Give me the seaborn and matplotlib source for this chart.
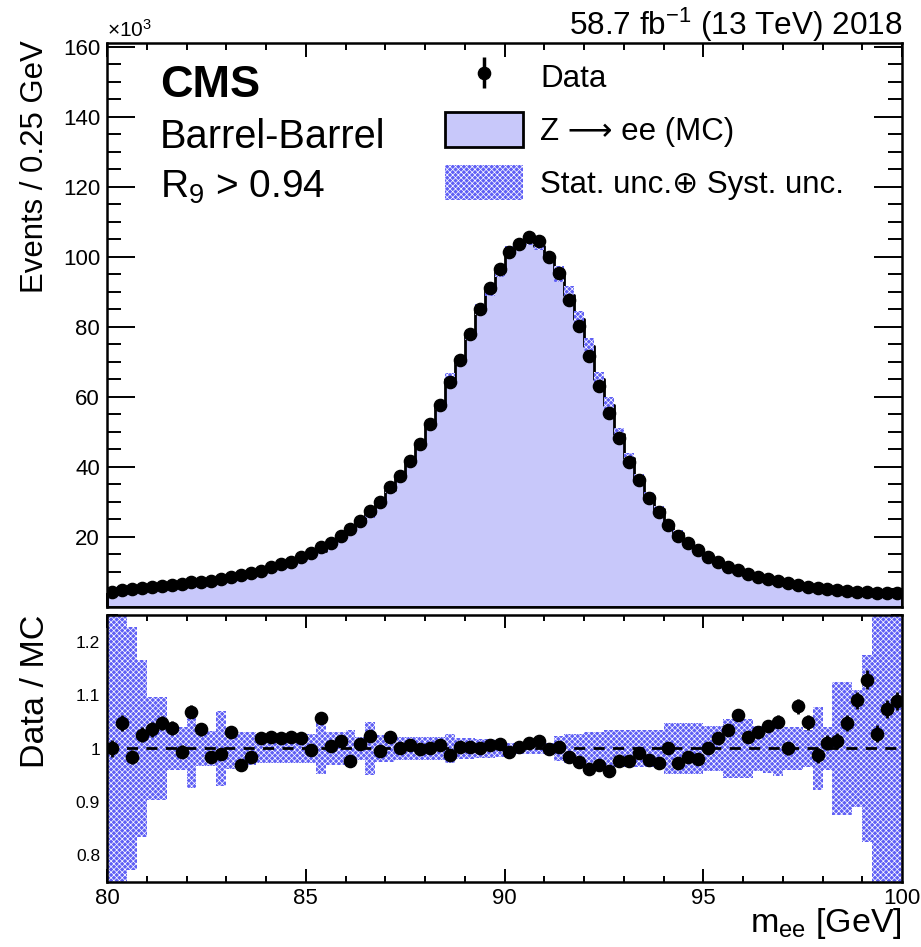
import numpy as np
import pandas as pd
import matplotlib
matplotlib.use("Agg")
import matplotlib.pyplot as plt
from matplotlib.patches import Patch
import seaborn as sns

# ---------------- data ----------------
bin_edges = np.arange(80.0, 100.0001, 0.25)
bin_centers = bin_edges[:-1] + 0.125

# Data events per bin, in units of 10^3
data_k = [4.4, 4.9, 5.0, 5.3, 5.6, 6.0, 6.3, 6.6, 7.0, 7.2,
          7.5, 8.0, 8.7, 9.1, 9.8, 10.4, 11.3, 12.3, 12.9, 14.2,
          15.3, 17.0, 18.4, 20.3, 22.2, 24.6, 27.5, 30.1, 34.2, 37.4,
          41.8, 46.5, 52.3, 57.7, 64.1, 70.6, 77.9, 85.0, 91.0, 96.6,
          101.2, 103.7, 105.6, 104.4, 99.9, 95.3, 87.7, 80.1, 71.7, 63.1,
          55.3, 48.2, 41.5, 36.3, 31.0, 27.1, 23.4, 20.4, 18.2, 16.3,
          14.2, 12.9, 11.5, 10.6, 9.4, 8.7, 7.9, 7.4, 6.8, 6.3,
          5.8, 5.3, 5.0, 4.8, 4.6, 4.4, 4.2, 4.0, 3.9, 3.9]

# Data / MC ratio per bin
ratio = [1.000, 1.048, 0.984, 1.026, 1.036, 1.048, 1.039, 0.994, 1.069, 1.036,
         0.984, 0.989, 1.031, 0.969, 0.984, 1.020, 1.022, 1.019, 1.021, 1.019,
         0.997, 1.058, 1.004, 1.014, 0.976, 1.008, 1.023, 0.995, 1.022, 1.000,
         1.006, 0.999, 1.001, 1.006, 0.987, 1.003, 1.003, 1.000, 1.006, 1.008,
         0.994, 1.003, 1.011, 1.014, 0.999, 1.003, 0.984, 0.975, 0.962, 0.970,
         0.957, 0.976, 0.976, 0.991, 0.978, 0.972, 1.001, 0.972, 0.984, 0.981,
         1.001, 1.020, 1.035, 1.062, 1.022, 1.030, 1.042, 1.050, 1.000, 1.079,
         1.049, 0.987, 1.011, 1.014, 1.048, 1.090, 1.129, 1.028, 1.074, 1.089]

# relative (stat. (+) syst.) uncertainty of the MC per bin
rel_unc = [0.30, 0.30, 0.228, 0.165, 0.096, 0.096, 0.041, 0.041, 0.074, 0.033,
           0.033, 0.071, 0.039, 0.031, 0.031, 0.028, 0.028, 0.028, 0.028, 0.027,
           0.027, 0.047, 0.030, 0.030, 0.035, 0.022, 0.050, 0.025, 0.025, 0.022,
           0.022, 0.022, 0.022, 0.022, 0.028, 0.019, 0.019, 0.018, 0.017, 0.016,
           0.011, 0.011, 0.011, 0.011, 0.011, 0.024, 0.028, 0.028, 0.030, 0.030,
           0.035, 0.035, 0.035, 0.035, 0.035, 0.035, 0.047, 0.047, 0.047, 0.047,
           0.042, 0.042, 0.055, 0.055, 0.055, 0.042, 0.045, 0.052, 0.040, 0.040,
           0.035, 0.077, 0.040, 0.124, 0.124, 0.110, 0.175, 0.30, 0.30, 0.30]

y_ticks_top = [20, 40, 60, 80, 100, 120, 140, 160]
y_ticks_ratio = [0.8, 0.9, 1.0, 1.1, 1.2]
y_ticklabels_ratio = ["0.8", "0.9", "1", "1.1", "1.2"]
x_ticks = [80, 85, 90, 95, 100]

data_k = np.array(data_k)
ratio = np.array(ratio)
rel_unc = np.array(rel_unc)
mc_k = data_k / ratio                      # MC prediction implied by data and ratio
data_err_k = np.sqrt(data_k * 1000.0) / 1000.0
ratio_err = ratio * data_err_k / data_k

df = pd.DataFrame({"mee": bin_centers, "mc": mc_k, "data": data_k})

# ---------------- style ----------------
sns.set_style("ticks")
plt.rcParams["font.family"] = ["Liberation Sans", "DejaVu Sans"]
plt.rcParams["mathtext.fontset"] = "custom"
plt.rcParams["mathtext.rm"] = "Liberation Sans"
plt.rcParams["mathtext.it"] = "Liberation Sans:italic"
plt.rcParams["mathtext.bf"] = "Liberation Sans:bold"
plt.rcParams["mathtext.default"] = "regular"
plt.rcParams["hatch.linewidth"] = 0.5
for k in ["text.color", "axes.labelcolor", "xtick.color", "ytick.color",
          "axes.edgecolor"]:
    plt.rcParams[k] = "black"

MC_FILL = "#c8c8fa"
BAND = "#5f5ff5"
HATCH = "xxxxxx"

W, H = 921, 947
fig = plt.figure(figsize=(W / 100, H / 100), dpi=100)
ax1 = fig.add_axes([107 / W, 1 - 607 / H, 795 / W, 564 / H])
ax2 = fig.add_axes([107 / W, 1 - 882 / H, 795 / W, 267 / H])

# ---------------- upper panel ----------------
sns.histplot(data=df, x="mee", weights="mc", binwidth=0.25, binrange=(80, 100),
             element="step", fill=True, color=MC_FILL, alpha=1.0,
             edgecolor="black", linewidth=2.0, ax=ax1, zorder=1)
ax1.bar(bin_centers, 2 * rel_unc * mc_k, bottom=mc_k * (1 - rel_unc), width=0.25,
        facecolor=BAND, edgecolor="white", linewidth=0, hatch=HATCH, zorder=2)
ax1.errorbar(bin_centers, data_k, yerr=data_err_k, fmt="o", color="black",
             markersize=8.8, elinewidth=2, capsize=0, zorder=3)

ax1.set_xlim(80, 100)
ax1.set_ylim(0, 161)
ax1.set_xticks(x_ticks)
ax1.set_xticks(np.arange(80, 101, 1), minor=True)
ax1.set_yticks(y_ticks_top)
ax1.set_yticks(np.arange(0, 161, 5), minor=True)
ax1.set_xticklabels([])
ax1.set_xlabel("")
ax1.set_ylabel("")
ax1.tick_params(axis="both", which="both", direction="in", top=True, right=True)
ax1.tick_params(axis="y", which="major", length=20, width=1.4, labelsize=16, pad=5)
ax1.tick_params(axis="y", which="minor", length=10, width=1.4)
ax1.tick_params(axis="x", which="major", length=10, width=1.4)
ax1.tick_params(axis="x", which="minor", length=5, width=1.4)
for s in ax1.spines.values():
    s.set_linewidth(1.8)

# legend
h_data = ax1.errorbar([], [], yerr=[], fmt="o", color="black", markersize=8.8,
                      elinewidth=2.5, capsize=0)
h_mc = Patch(facecolor=MC_FILL, edgecolor="black", linewidth=2)
h_unc = Patch(facecolor=BAND, edgecolor="white", linewidth=0, hatch=HATCH)
ax1.legend([h_data, h_mc, h_unc],
           ["Data", "Z \u27f6 ee (MC)", "Stat. unc.\u2295 Syst. unc."],
           loc="upper left", bbox_to_anchor=(0.425, 0.972), frameon=False,
           fontsize=22.5, handlelength=2.5, handleheight=1.35, labelspacing=0.58,
           handletextpad=0.55, borderpad=0, borderaxespad=0)

fig.text(160 / W, 1 - 97 / H, "CMS", fontsize=32.5, fontweight="bold", va="baseline")
fig.text(160 / W, 1 - 148 / H, "Barrel-Barrel", fontsize=28.6, va="baseline")
fig.text(160 / W, 1 - 198 / H, "R$_{9}$ > 0.94", fontsize=28, va="baseline")
fig.text(107 / W, 1 - 37 / H, "\u00d710$^{3}$", fontsize=15, va="baseline")
fig.text(902 / W, 1 - 35 / H, "58.7 fb$^{-1}$ (13 TeV) 2018", fontsize=22.7,
         ha="right", va="baseline")
fig.text(35 / W, 1 - 40 / H, "Events / 0.25 GeV", fontsize=22.4, rotation=90,
         ha="center", va="top")

# ---------------- ratio panel ----------------
ax2.bar(bin_centers, 2 * rel_unc, bottom=1 - rel_unc, width=0.25,
        facecolor=BAND, edgecolor="white", linewidth=0, hatch=HATCH, zorder=1)
ax2.axhline(1.0, color="black", linestyle=(0, (4, 3)), linewidth=2, zorder=2)
ax2.errorbar(bin_centers, ratio, yerr=ratio_err, fmt="o", color="black",
             markersize=8.8, elinewidth=2, capsize=0, zorder=3)

ax2.set_xlim(80, 100)
ax2.set_ylim(0.75, 1.25)
ax2.set_xticks(x_ticks)
ax2.set_xticklabels([str(t) for t in x_ticks])
ax2.set_xticks(np.arange(80, 101, 1), minor=True)
ax2.set_yticks(y_ticks_ratio)
ax2.set_yticklabels(y_ticklabels_ratio)
ax2.set_yticks(np.arange(0.75, 1.2501, 0.05), minor=True)
ax2.tick_params(axis="both", which="both", direction="in", top=True, right=True)
ax2.tick_params(axis="y", which="major", length=16, width=1.4, labelsize=12.5, pad=5)
ax2.tick_params(axis="y", which="minor", length=8, width=1.4)
ax2.tick_params(axis="x", which="major", length=9.5, width=1.4, labelsize=16, pad=4)
ax2.tick_params(axis="x", which="minor", length=4.5, width=1.4)
for s in ax2.spines.values():
    s.set_linewidth(1.8)

fig.text(36 / W, 1 - 615 / H, "Data / MC", fontsize=24.5, rotation=90,
         ha="center", va="top")
fig.text(902 / W, 1 - 932 / H, "m$_{ee}$ [GeV]", fontsize=24.5, ha="right",
         va="baseline")

fig.savefig("out.png", dpi=100)
